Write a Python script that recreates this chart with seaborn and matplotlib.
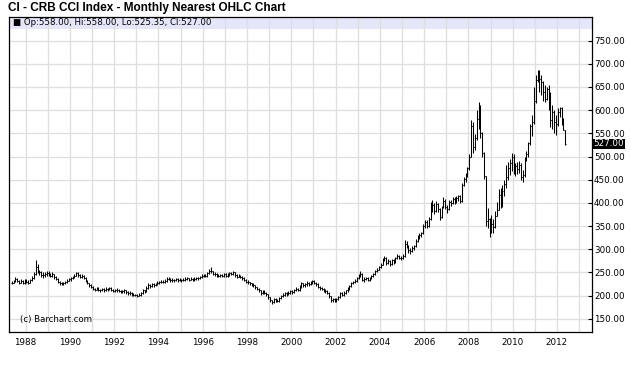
import matplotlib
matplotlib.use("Agg")
import numpy as np
import pandas as pd
import matplotlib.pyplot as plt
import seaborn as sns
from matplotlib.patches import Rectangle
from matplotlib.ticker import FormatStrFormatter, MultipleLocator
import matplotlib.transforms as mtransforms

# Monthly OHLC of the CRB CCI index, May 1987 .. May 2012
first_month = "1987-05-01"

opens = [
    226, 228, 231, 236, 232, 228, 232, 227,                      # 1987
    233, 230, 228, 234, 238, 246, 262, 252, 250, 245, 244, 246,  # 1988
    249, 247, 243, 246, 240, 236, 230, 226, 225, 227, 229, 232,  # 1989
    235, 237, 240, 243, 248, 244, 240, 243, 238, 233, 227, 222,  # 1990
    219, 215, 212, 216, 213, 211, 214, 211, 215, 213, 216, 213,  # 1991
    210, 211, 213, 210, 208, 209, 211, 207, 205, 206, 203, 202,  # 1992
    201, 200, 202, 206, 211, 208, 217, 223, 220, 224, 222, 225,  # 1993
    228, 229, 230, 229, 232, 236, 237, 233, 234, 233, 235, 233,  # 1994
    234, 233, 234, 236, 237, 234, 236, 234, 236, 238, 237, 240,  # 1995
    243, 244, 243, 248, 254, 252, 247, 246, 243, 242, 244, 243,  # 1996
    246, 242, 245, 248, 247, 250, 244, 241, 243, 240, 238, 234,  # 1997
    230, 229, 226, 224, 222, 218, 214, 211, 205, 209, 206, 203,  # 1998
    196, 190, 186, 192, 190, 189, 195, 198, 202, 205, 204, 206,  # 1999
    209, 208, 211, 215, 212, 219, 226, 222, 224, 228, 224, 227,  # 2000
    231, 227, 224, 219, 217, 215, 211, 210, 206, 198, 191, 192,  # 2001
    189, 192, 197, 205, 202, 206, 211, 214, 220, 227, 229, 232,  # 2002
    237, 244, 247, 234, 236, 238, 234, 238, 242, 246, 252, 256,  # 2003
    261, 266, 278, 282, 270, 275, 268, 276, 272, 280, 286, 282,  # 2004
    280, 286, 312, 308, 298, 296, 302, 306, 318, 326, 330, 334,  # 2005
    350, 358, 350, 366, 392, 396, 382, 398, 386, 370, 390, 405,  # 2006
    392, 386, 402, 400, 408, 404, 410, 414, 403, 438, 452, 458,  # 2007
    476, 500, 565, 520, 540, 580, 605, 550, 508, 458, 360, 365,  # 2008
    345, 355, 348, 372, 385, 418, 398, 425, 440, 455, 475, 485,  # 2009
    500, 470, 480, 472, 482, 455, 460, 495, 505, 530, 565, 575,  # 2010
    620, 665, 682, 668, 660, 640, 625, 645, 640, 578, 595, 575,  # 2011
    570, 595, 605, 578, 558,                                     # 2012
]
highs = [
    232, 234, 240, 238, 234, 236, 234, 236,
    236, 233, 236, 242, 250, 277, 268, 256, 252, 250, 250, 253,
    252, 249, 250, 247, 242, 237, 232, 229, 230, 232, 235, 238,
    240, 243, 246, 251, 250, 246, 246, 245, 239, 234, 228, 224,
    221, 217, 219, 218, 215, 217, 216, 218, 217, 219, 218, 214,
    214, 216, 214, 212, 212, 214, 212, 209, 209, 207, 205, 204,
    203, 205, 208, 214, 213, 220, 226, 225, 227, 226, 228, 231,
    232, 233, 233, 235, 239, 241, 238, 237, 236, 238, 237, 237,
    236, 237, 239, 240, 238, 239, 238, 239, 241, 240, 243, 246,
    247, 247, 250, 258, 262, 253, 250, 248, 246, 247, 247, 249,
    248, 248, 251, 251, 253, 251, 246, 246, 245, 242, 239, 235,
    233, 230, 228, 226, 223, 219, 216, 212, 212, 211, 207, 204,
    197, 191, 194, 195, 193, 197, 201, 205, 208, 208, 209, 212,
    212, 214, 218, 217, 222, 229, 228, 227, 231, 230, 231, 234,
    233, 229, 226, 221, 219, 217, 214, 212, 207, 199, 195, 194,
    195, 199, 207, 207, 209, 213, 218, 222, 229, 232, 236, 240,
    246, 252, 248, 239, 241, 240, 241, 245, 249, 255, 260, 264,
    270, 282, 286, 284, 279, 277, 279, 278, 283, 290, 288, 285,
    290, 320, 318, 310, 302, 306, 310, 322, 331, 336, 338, 354,
    362, 362, 370, 402, 406, 400, 403, 400, 388, 394, 413, 408,
    395, 406, 407, 412, 412, 414, 418, 416, 442, 455, 464, 478,
    505, 579, 575, 548, 600, 618, 612, 553, 510, 458, 389, 367,
    373, 365, 382, 402, 430, 432, 438, 450, 482, 489, 495, 507,
    505, 486, 488, 490, 486, 470, 500, 512, 532, 570, 590, 650,
    676, 687, 686, 676, 662, 654, 650, 654, 640, 611, 600, 590,
    605, 607, 606, 583, 558,
]
lows = [
    224, 226, 229, 229, 225, 226, 224, 225,
    226, 224, 227, 232, 236, 245, 248, 244, 240, 238, 240, 242,
    243, 240, 240, 236, 233, 227, 223, 222, 223, 225, 228, 231,
    232, 235, 238, 242, 241, 237, 238, 235, 230, 224, 219, 216,
    212, 209, 211, 210, 208, 209, 208, 209, 210, 211, 210, 207,
    207, 208, 207, 205, 205, 206, 204, 202, 202, 200, 199, 198,
    197, 198, 200, 204, 205, 207, 215, 217, 219, 219, 220, 223,
    225, 226, 226, 227, 230, 233, 230, 230, 230, 231, 230, 231,
    230, 231, 232, 233, 231, 233, 231, 232, 234, 234, 236, 238,
    240, 240, 241, 246, 248, 244, 242, 240, 239, 240, 240, 241,
    239, 240, 243, 244, 245, 241, 238, 239, 237, 234, 231, 227,
    225, 222, 220, 218, 215, 211, 207, 202, 203, 203, 199, 193,
    187, 182, 184, 187, 185, 186, 192, 196, 199, 200, 201, 204,
    204, 205, 209, 209, 210, 217, 219, 219, 221, 220, 222, 224,
    224, 220, 216, 213, 211, 208, 206, 203, 195, 187, 186, 185,
    186, 190, 195, 199, 200, 204, 208, 212, 218, 224, 227, 230,
    235, 240, 231, 230, 233, 231, 232, 235, 240, 245, 250, 255,
    259, 265, 275, 266, 267, 264, 266, 268, 270, 278, 278, 276,
    278, 284, 302, 292, 290, 294, 298, 304, 315, 322, 326, 332,
    346, 345, 348, 364, 380, 376, 380, 380, 363, 368, 388, 386,
    378, 384, 394, 398, 398, 400, 404, 399, 402, 436, 446, 455,
    470, 498, 507, 515, 535, 560, 540, 500, 452, 350, 346, 327,
    335, 335, 345, 372, 385, 388, 390, 415, 432, 450, 460, 468,
    462, 458, 462, 465, 450, 445, 455, 490, 500, 525, 545, 570,
    615, 660, 640, 633, 620, 618, 622, 600, 564, 560, 550, 546,
    565, 585, 568, 557, 525.35,
]
closes = [
    228, 231, 236, 232, 228, 232, 227, 233,
    230, 228, 234, 238, 246, 262, 252, 250, 245, 244, 246, 249,
    247, 243, 246, 240, 236, 230, 226, 225, 227, 229, 232, 235,
    237, 240, 243, 248, 244, 240, 243, 238, 233, 227, 222, 219,
    215, 212, 216, 213, 211, 214, 211, 215, 213, 216, 213, 210,
    211, 213, 210, 208, 209, 211, 207, 205, 206, 203, 202, 201,
    200, 202, 206, 211, 208, 217, 223, 220, 224, 222, 225, 228,
    229, 230, 229, 232, 236, 237, 233, 234, 233, 235, 233, 234,
    233, 234, 236, 237, 234, 236, 234, 236, 238, 237, 240, 243,
    244, 243, 248, 254, 252, 247, 246, 243, 242, 244, 243, 246,
    242, 245, 248, 247, 250, 244, 241, 243, 240, 238, 234, 230,
    229, 226, 224, 222, 218, 214, 211, 205, 209, 206, 203, 196,
    190, 186, 192, 190, 189, 195, 198, 202, 205, 204, 206, 209,
    208, 211, 215, 212, 219, 226, 222, 224, 228, 224, 227, 231,
    227, 224, 219, 217, 215, 211, 210, 206, 198, 191, 192, 189,
    192, 197, 205, 202, 206, 211, 214, 220, 227, 229, 232, 237,
    244, 247, 234, 236, 238, 234, 238, 242, 246, 252, 256, 261,
    266, 278, 282, 270, 275, 268, 276, 272, 280, 286, 282, 280,
    286, 312, 308, 298, 296, 302, 306, 318, 326, 330, 334, 350,
    358, 350, 366, 392, 396, 382, 398, 386, 370, 390, 405, 392,
    386, 402, 400, 408, 404, 410, 414, 403, 438, 452, 458, 476,
    500, 565, 520, 540, 580, 605, 550, 508, 458, 360, 365, 345,
    355, 348, 372, 385, 418, 398, 425, 440, 455, 475, 485, 500,
    470, 480, 472, 482, 455, 460, 495, 505, 530, 565, 575, 620,
    665, 682, 668, 660, 640, 625, 645, 640, 578, 595, 575, 570,
    595, 605, 578, 558, 527,
]

title = "CI - CRB CCI Index - Monthly Nearest OHLC Chart"
legend_text = "\u25a0 Op:558.00, Hi:558.00, Lo:525.35, Cl:527.00"
credit = "(c) Barchart.com"
last_close_label = "527.00"

dates = pd.date_range(first_month, periods=len(closes), freq="MS")
df = pd.DataFrame({
    "t": dates.year + (dates.month - 0.5) / 12.0,
    "open": opens, "high": highs, "low": lows, "close": closes,
})

sns.set_theme(style="white")
plt.rcParams["font.family"] = ["DejaVu Sans"]

W, H = 630, 369
fig = plt.figure(figsize=(W / 100, H / 100), dpi=100)
ax = fig.add_axes([9 / W, 1 - 332 / H, (592 - 9) / W, (332 - 16.7) / H])

# OHLC bars
tick = 0.038
ax.vlines(df["t"], df["low"], df["high"], color="black", lw=0.75, zorder=3)
ax.hlines(df["open"], df["t"] - tick, df["t"], color="black", lw=0.75, zorder=3)
ax.hlines(df["close"], df["t"], df["t"] + tick, color="black", lw=0.75, zorder=3)

ax.set_xlim(1987.253, 2013.584)
ax.set_ylim(121.3, 801.7)

# axes / grid
ax.set_axisbelow(True)
ax.xaxis.set_major_locator(MultipleLocator(2))
ax.xaxis.set_minor_locator(MultipleLocator(1))
ax.xaxis.set_major_formatter(FormatStrFormatter("%d"))
ax.set_yticks(np.arange(150, 751, 50))
ax.yaxis.set_major_formatter(FormatStrFormatter("%.2f"))
ax.yaxis.tick_right()
ax.grid(True, which="both", color="#dedede", lw=0.9)
ax.tick_params(axis="x", which="both", length=0, labelsize=6.3, pad=4, colors="black")
ax.tick_params(axis="y", direction="in", length=3, width=0.8, labelsize=6.3,
               pad=1.5, colors="black")
for s in ax.spines.values():
    s.set_visible(True)
    s.set_color("black")
    s.set_linewidth(0.9)

# lavender legend strip along the top
ax.add_patch(Rectangle((0, 0.961), 1, 0.039, transform=ax.transAxes,
                       facecolor="#e6e6fa", edgecolor="none", zorder=0.2))
ax.text(4 / 583, 0.981, legend_text, transform=ax.transAxes, fontsize=6.2,
        va="center", ha="left", color="black")

ax.text(11 / 583, 0.04, credit, transform=ax.transAxes, fontsize=6.2,
        va="center", ha="left", color="black")

# last close marker on the price axis
trans = mtransforms.blended_transform_factory(ax.transAxes, ax.transData)
ax.text(1.003, closes[-1], last_close_label, transform=trans, fontsize=6.3,
        color="white", va="center", ha="left",
        bbox=dict(facecolor="black", edgecolor="none", pad=0.6))

fig.text(8 / W, 1 - 8.5 / H, title, fontsize=8.5, fontweight="bold",
         family="Liberation Sans", va="center", ha="left", color="black")

fig.savefig("out.png", dpi=100, facecolor="white")
